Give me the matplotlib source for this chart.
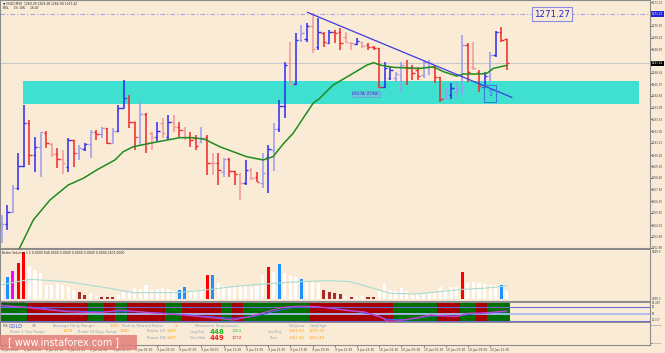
import numpy as np
import matplotlib.pyplot as plt
import matplotlib.transforms as mtransforms
from matplotlib.patches import Rectangle

# 画布尺寸（像素）与背景
W, H = 665, 353
BG = '#faebd7'
STEP, X0 = 5.55, 1.7      # K线间距、第一根K线位置（像素）
PANEL_W = 650

# ---------------- 数据 ----------------
opens = [1254.05, 1254.78, 1255.70, 1257.64, 1259.34, 1262.69, 1260.20, 1260.85, 1261.95, 1261.06,
         1260.28, 1259.86, 1259.28, 1261.38, 1260.33, 1260.64, 1261.06, 1262.03, 1261.85, 1262.29,
         1261.12, 1262.08, 1263.86, 1264.65, 1262.82, 1261.64, 1263.39, 1261.90, 1261.59, 1262.69,
         1261.64, 1262.82, 1262.42, 1262.16, 1261.64, 1261.51, 1261.25, 1261.64, 1259.60, 1259.54,
         1258.89, 1259.86, 1258.97, 1258.71, 1258.03, 1259.02, 1258.50, 1258.03, 1260.07, 1260.59,
         1262.24, 1264.05, 1267.39, 1265.77, 1269.23, 1269.28, 1270.33, 1268.70, 1269.75, 1269.02,
         1269.88, 1269.88, 1269.49, 1269.02, 1268.89, 1269.10, 1268.83, 1268.70, 1268.57, 1265.51,
         1266.22, 1266.22, 1266.48, 1267.13, 1267.13, 1266.87, 1266.48, 1267.00, 1267.13, 1266.35,
         1264.65, 1264.91, 1265.17, 1265.30, 1268.83, 1267.13, 1266.74, 1265.56, 1266.40, 1268.05,
         1269.83, 1269.28]
highs = [1255.49, 1256.27, 1257.85, 1260.33, 1264.12, 1262.95, 1261.64, 1262.03, 1262.11, 1261.12,
         1260.72, 1260.59, 1261.51, 1261.38, 1260.98, 1261.12, 1262.16, 1262.16, 1262.42, 1262.29,
         1262.29, 1264.12, 1266.09, 1264.91, 1262.82, 1264.39, 1263.47, 1262.03, 1262.82, 1263.08,
         1263.34, 1263.34, 1262.82, 1262.42, 1262.03, 1261.77, 1262.37, 1261.77, 1260.33, 1260.33,
         1259.94, 1259.94, 1258.97, 1258.76, 1259.81, 1259.15, 1258.89, 1260.33, 1260.98, 1262.74,
         1264.52, 1267.53, 1269.10, 1269.75, 1270.40, 1270.53, 1271.32, 1270.93, 1269.88, 1270.01,
         1270.01, 1270.14, 1269.88, 1269.10, 1269.36, 1269.10, 1269.02, 1268.76, 1268.57, 1267.53,
         1267.13, 1266.74, 1267.53, 1267.66, 1267.26, 1267.13, 1267.66, 1267.66, 1267.26, 1266.35,
         1265.43, 1265.82, 1265.96, 1269.62, 1269.02, 1269.10, 1266.87, 1266.74, 1268.31, 1269.96,
         1270.27, 1269.28]
lows = [1253.26, 1254.31, 1255.62, 1257.45, 1259.28, 1259.41, 1258.89, 1258.50, 1260.72, 1260.07,
        1259.15, 1258.71, 1258.89, 1259.28, 1259.81, 1260.54, 1259.94, 1261.38, 1261.51, 1261.06,
        1261.12, 1262.03, 1263.86, 1262.29, 1260.59, 1260.98, 1260.33, 1260.59, 1261.25, 1261.51,
        1261.38, 1262.03, 1261.64, 1261.38, 1260.85, 1260.59, 1261.12, 1258.63, 1258.63, 1257.85,
        1258.50, 1258.50, 1257.85, 1256.67, 1257.85, 1258.24, 1258.11, 1257.64, 1257.19, 1258.97,
        1262.03, 1263.08, 1265.69, 1265.69, 1269.10, 1269.10, 1268.18, 1268.44, 1268.70, 1268.97,
        1268.97, 1268.44, 1269.02, 1268.44, 1268.83, 1268.57, 1268.44, 1268.44, 1265.43, 1265.43,
        1266.09, 1265.96, 1265.17, 1265.69, 1266.09, 1266.09, 1266.22, 1266.48, 1265.82, 1264.39,
        1264.57, 1264.57, 1264.65, 1264.91, 1265.96, 1266.87, 1265.17, 1265.51, 1265.82, 1267.92,
        1269.10, 1266.90]
closes = [1254.78, 1255.70, 1257.64, 1259.34, 1262.69, 1260.20, 1260.85, 1262.03, 1261.12, 1260.28,
          1259.86, 1259.54, 1261.38, 1260.33, 1260.72, 1261.06, 1262.03, 1261.85, 1262.29, 1261.12,
          1262.08, 1263.86, 1264.65, 1262.82, 1261.64, 1263.39, 1261.12, 1261.59, 1262.11, 1261.95,
          1262.82, 1262.42, 1262.16, 1261.64, 1261.38, 1260.91, 1261.51, 1259.60, 1259.54, 1259.02,
          1259.86, 1258.97, 1258.71, 1257.98, 1259.02, 1258.37, 1258.11, 1258.76, 1260.67, 1262.24,
          1264.05, 1267.26, 1265.77, 1269.23, 1269.75, 1270.33, 1268.49, 1269.88, 1269.10, 1269.88,
          1269.75, 1269.02, 1269.10, 1268.97, 1269.17, 1268.76, 1268.70, 1268.57, 1265.51, 1267.00,
          1266.87, 1266.56, 1267.26, 1267.00, 1266.66, 1266.40, 1267.53, 1267.39, 1266.30, 1264.57,
          1265.30, 1265.43, 1265.43, 1268.83, 1266.74, 1267.00, 1265.62, 1266.40, 1268.05, 1269.83,
          1269.23, 1267.42]
# B/b 阳线（深/浅），R/r 阴线（深/浅）
bar_kind = ("bBbBBRBbRr" "RrBRbBbRbR" "bBBRRbRrBr" "BrRrRRbRrR" "bRRrBrRbBb"
            "BBrBbBrBRB" "RRrrBrRRRB" "BbbRRRbbRR" "bBbbRrRBbB" "RR")

# 均线
ma_x = [2.5, 3.2, 5.7, 8.7, 12.0, 14.7, 17.1, 20.4, 21.9, 23.7, 27.3, 32.1, 34.5, 36.6, 39.3,
        44.1, 47.1, 48.9, 50.7, 52.5, 54.3, 56.1, 57.3, 59.7, 62.8, 65.8, 67.0, 68.2, 70.6,
        75.4, 77.8, 79.6, 82.0, 83.2, 86.2, 87.4, 88.6, 91.0]
ma_y = [1252.30, 1252.87, 1255.10, 1256.67, 1257.85, 1258.37, 1259.02, 1259.81, 1260.46, 1260.85,
        1261.17, 1261.56, 1261.56, 1261.43, 1260.85, 1260.07, 1259.81, 1260.07, 1261.06, 1261.90,
        1263.08, 1264.26, 1264.65, 1265.69, 1266.48, 1267.26, 1267.45, 1267.26, 1267.08, 1267.00,
        1267.13, 1266.74, 1266.40, 1266.56, 1266.56, 1266.61, 1267.00, 1267.24]

trend_x = [55.1, 91.9]
trend_y = [1271.40, 1264.73]
zone_left, zone_right = 3.84, 114.8
zone_low, zone_high = 1264.20, 1266.01
level_line = 1271.27
last_price = 1267.42

price_ticks = [1252.90, 1253.80, 1254.70, 1255.65, 1256.55, 1257.50, 1258.40, 1259.30, 1260.20,
               1261.15, 1262.05, 1263.00, 1263.90, 1264.85, 1265.75, 1266.65, 1268.50, 1269.40,
               1270.35, 1272.20]

# 成交量
volumes = [1894, 2430, 3038, 3860, 5111, 3431, 3145, 2788, 1537, 1537,
           1716, 1537, 1287, 1001, 751, 465, 715, 357, 286, 286,
           214, 465, 822, 929, 1180, 1072, 1537, 1001, 1072, 1180,
           1072, 929, 1001, 1287, 929, 1001, 1072, 2609, 2609, 1787,
           1430, 1358, 1287, 1430, 1430, 1358, 1430, 2609, 3503, 2967,
           3789, 2859, 2502, 2430, 2145, 1894, 2002, 1716, 1001, 822,
           643, 536, 357, 286, 357, 357, 286, 286, 929, 1608,
           1001, 894, 1180, 929, 572, 572, 572, 643, 643, 1358,
           1001, 1287, 1287, 2895, 1787, 1859, 1716, 1608, 1537, 1537,
           1537, 929]
vol_kind = ("WBMRRWWWWW" "WWWWDDWWDD" "DWWWWWWWWW" "WWBBWWWRBW" "WWWWWWWWRW"
            "BWWWBWWWDD" "DDWDWWDDWW" "WWWWWWWWWW" "WWWRWWWWWW" "BW")
vma_x = [-0.3, 5.1, 11.7, 19.5, 23.7, 31.5, 35.7, 41.7, 46.5, 53.7, 59.2, 62.8, 67.0, 70.0,
         74.8, 79.0, 83.2, 86.8, 91.0]
vma_y = [1537, 2145, 1894, 1180, 715, 715, 929, 1358, 1608, 1894, 2000, 1894, 1180, 643,
         572, 822, 1072, 1180, 1430]

# 指标窗口
trend_state = ("GGGGG" "RRRRRRRRRRR" "GGG" "RR" "GG" "RRRRRRR" "GGG" "RRRRRRR" "GG" "RR"
               "GGGGGGGGGGGG" "RRRRRRRRRRRRRRR" "GGGGGGGG" "RRRR" "GGG" "RR" "GGGG")
rsi_x = [-0.3, 5.7, 11.7, 17.7, 21.3, 26.7, 32.7, 38.7, 41.7, 44.7, 47.7, 50.7, 53.7, 56.7,
         59.2, 62.2, 65.2, 68.2, 69.4, 71.2, 74.2, 77.2, 80.2, 82.0, 83.8, 87.4, 89.2, 91.0]
rsi_y = [90.3, 75.5, 60.3, 55.8, 67.9, 55.8, 45.5, 30.7, 23.1, 37.9, 60.3, 80.0, 85.8, 82.7,
         75.5, 65.0, 60.3, 37.9, 18.7, 18.7, 30.7, 45.5, 41.0, 37.9, 53.1, 55.8, 60.3, 63.4]
sig_x = [-0.3, 5.7, 11.7, 17.7, 23.7, 29.7, 35.7, 41.7, 45.3, 48.9, 52.5, 56.7, 62.2, 66.4,
         69.4, 73.0, 77.2, 82.0, 85.0, 91.0]
sig_y = [85.8, 80.0, 63.4, 60.3, 60.3, 53.1, 41.0, 30.7, 37.9, 60.3, 80.0, 82.7, 67.9, 50.0,
         26.3, 23.1, 41.0, 41.0, 50.0, 60.3]

time_labels = ["8 Jun 2018", "8 Jun 17:30", "8 Jun 19:30", "8 Jun 21:30", "8 Jun 23:30",
               "9 Jun 01:30", "9 Jun 03:30", "9 Jun 05:30", "9 Jun 07:30", "9 Jun 09:30",
               "9 Jun 11:30", "9 Jun 13:30", "9 Jun 15:30", "9 Jun 17:30", "9 Jun 19:30",
               "9 Jun 21:30", "9 Jun 23:30", "10 Jun 01:30", "10 Jun 03:30", "10 Jun 05:30",
               "10 Jun 07:30", "10 Jun 09:30", "10 Jun 11:30"]

# ---------------- 绘图 ----------------
fig = plt.figure(figsize=(W / 100, H / 100), dpi=100)
fig.patch.set_facecolor(BG)


def px_axes(left, top, width, height):
    a = fig.add_axes([left / W, 1 - (top + height) / H, width / W, height / H])
    a.set_facecolor(BG)
    a.set_xlim(-X0 / STEP, (PANEL_W - X0) / STEP)
    a.set_xticks([])
    a.set_yticks([])
    for s in a.spines.values():
        s.set_color('#8c8c8c')
        s.set_linewidth(0.8)
    return a


def px_text(x, y, s, **kw):
    kw.setdefault('fontsize', 2.4)
    kw.setdefault('va', 'center')
    fig.text(x / W, 1 - y / H, s, **kw)


x = np.arange(len(opens))
n = len(opens)

# 主图
ax = px_axes(0, 0, PANEL_W, 249)
ax.set_ylim(1252.82, 1272.37)
ax.spines['bottom'].set_linewidth(1.5)
ax.add_patch(Rectangle((zone_left, zone_low), zone_right - zone_left, zone_high - zone_low,
                       color='#40e0d0', lw=0, zorder=1))
ax.axhline(level_line, color='#a8a0e0', lw=0.8, ls=(0, (4, 2, 1, 2)), zorder=2)
ax.axhline(last_price, color='#c8c8c8', lw=0.8, zorder=2)

kind_col = {'B': '#2b2bf0', 'b': '#9a9af0', 'R': '#f02828', 'r': '#f09898'}
cols = [kind_col[k] for k in bar_kind]
ax.vlines(x, lows, highs, colors=cols, lw=1.1, zorder=3)
ax.hlines(opens, x - 0.45, x, colors=cols, lw=1.0, zorder=3)
ax.hlines(closes, x, x + 0.45, colors=cols, lw=1.0, zorder=3)

ax.plot(ma_x, ma_y, color='#1e8c1e', lw=1.1, zorder=4)
ax.plot(trend_x, trend_y, color='#3c3ce0', lw=0.9, zorder=4)

ax.text(65.6, 1264.99, 'DELTA ZONE', fontsize=3.2, color='#2040d0', ha='center', va='center',
        bbox=dict(boxstyle='square,pad=0.2', fc='#72c4d8', ec='#5a9ad0', lw=0.4), zorder=5)
ax.add_patch(Rectangle((86.9, 1264.38), 2.2, 1.31, fc='none', ec='#3a7ad8', lw=0.8, zorder=5))
ax.text(88.0, 1265.03, '\u21e7', fontsize=7, color='#3a6ad8', ha='center', va='center', zorder=5)
ax.text(99.2, level_line, '1271.27', fontsize=6.3, color='#2222cc', ha='center', va='center',
        bbox=dict(boxstyle='square,pad=0.25', fc=BG, ec='#8a8ae0', lw=0.8), zorder=5)

ax.yaxis.tick_right()
ax.set_yticks(price_ticks)
ax.set_yticklabels([f'{v:.2f}' for v in price_ticks], fontsize=1.95)
ax.tick_params(axis='y', length=1.2, width=0.5, pad=0.4, colors='#404040')
trans = mtransforms.blended_transform_factory(ax.transAxes, ax.transData)
ax.text(1.003, level_line, '1271.27', transform=trans, fontsize=1.95, color='white', va='center',
        bbox=dict(boxstyle='square,pad=0.2', fc='#2424d8', ec='none'), clip_on=False)
ax.text(1.003, last_price, '1267.42', transform=trans, fontsize=1.95, color='white', va='center',
        bbox=dict(boxstyle='square,pad=0.2', fc='black', ec='none'), clip_on=False)

px_text(3, 3.3, '\u25bc GOLD,M30  1269.28 1269.28 1266.90 1267.42', color='#222222', fontsize=2.2)
px_text(3, 8.3, 'BSL     1% 10K     16:47', color='#222222', fontsize=2.2)

# 成交量
axv = px_axes(0, 250, PANEL_W, 51.5)
axv.set_ylim(-236, 5290)
axv.spines['top'].set_visible(False)
axv.spines['bottom'].set_linewidth(1.5)
vol_col = {'W': '#ffffff', 'R': '#ff0000', 'B': '#1e90ff', 'M': '#ff00ff', 'D': '#a52a2a'}
axv.bar(x, volumes, width=0.55, color=[vol_col[k] for k in vol_kind], lw=0)
axv.plot(vma_x, vma_y, color='#a8dcd0', lw=0.8)
px_text(2, 252.7, 'Better Volumes 1.5 0.0000 646.0000 0.0000 0.0000 0.0000 0.0000 1407.0000',
        color='#222222', fontsize=2.2)
px_text(651.5, 251.7, '5289.9', color='#404040', fontsize=1.95)
px_text(651.5, 298.7, '2889.3', color='#404040', fontsize=1.95)

# 指标
axi = px_axes(0, 302.5, PANEL_W, 20)
axi.set_ylim(11.9, 101.5)
axi.spines['top'].set_visible(False)
axi.spines['bottom'].set_linewidth(1.5)
state_col = {'G': '#007000', 'R': '#a80000'}
axi.bar(x, [89.6] * n, bottom=11.9, width=1.02, color=[state_col[s] for s in trend_state], lw=0)
for lvl in (80, 20):
    axi.axhline(lvl, color='#6c6cd6', lw=0.8)
axi.axhline(50, color='#aabcf2', lw=1.3)
axi.plot(sig_x, sig_y, color='#4a5cf0', lw=0.8)
axi.plot(rsi_x, rsi_y, color='#d040d0', lw=0.8)
px_text(2, 304.3, 'RSI(14) 63.4051', color='#202020', fontsize=2.2)
px_text(651.5, 303.4, '83.409', color='#404040', fontsize=1.8)
px_text(651.5, 307.4, '80', color='#404040', fontsize=1.8)
px_text(651.5, 314.0, '50', color='#404040', fontsize=1.8)
px_text(651.5, 320.4, '20.757', color='#404040', fontsize=1.8)

# 信息面板 + 时间轴
axn = px_axes(0, 323, PANEL_W, 22)
axn.spines['top'].set_visible(False)
axn.set_xticks(np.arange(0, n, 4))
axn.set_xticklabels(time_labels, fontsize=2.2, ha='left', color='#404040')
axn.tick_params(axis='x', length=1.5, width=0.5, pad=0.5, colors='#404040')
px_text(651.3, 325.3, '-9000000', color='#404040', fontsize=1.7)
px_text(651.3, 343.7, '9000000', color='#404040', fontsize=1.7)

GRAY, ORANGE = '#8fa3b8', '#f5a623'
info_rows = [
    (2, 326, 'T3K', '#303030', 2.2, 'normal'),
    (9, 326, 'GOLD', '#3050e0', 3.5, 'normal'),
    (32, 326, '30', '#6080c0', 2.8, 'normal'),
    (53, 326, 'Average Daily Range:', GRAY, 2.8, 'normal'),
    (110, 326, '1645', ORANGE, 2.8, 'normal'),
    (122, 326, 'Risk to Reward Ratio:', GRAY, 2.8, 'normal'),
    (175, 326, '3', ORANGE, 2.8, 'normal'),
    (195, 326, 'Maximum StopLosses:', GRAY, 2.8, 'normal'),
    (289, 326, 'DailyLow', GRAY, 2.6, 'normal'),
    (310, 326, 'DailyHigh', GRAY, 2.6, 'normal'),
    (10, 331.5, 'Room 1 Day Range', GRAY, 2.6, 'normal'),
    (63, 331.5, '1478', ORANGE, 2.8, 'normal'),
    (78, 331.5, 'Room 10 Days Range', GRAY, 2.6, 'normal'),
    (120, 331.5, '1660', ORANGE, 2.8, 'normal'),
    (147, 331.5, 'Room UP:', GRAY, 2.8, 'normal'),
    (167, 331.5, '1345', ORANGE, 2.8, 'normal'),
    (190, 331.5, 'Long Risk', GRAY, 2.2, 'normal'),
    (210, 331.5, '448', '#22bb22', 5.0, 'bold'),
    (232, 331.5, '1263', '#33cc33', 3.0, 'normal'),
    (268, 331.5, 'CurrDay', GRAY, 2.6, 'normal'),
    (289, 331.5, '1264.42', ORANGE, 2.8, 'normal'),
    (309, 331.5, '1270.39', ORANGE, 2.8, 'normal'),
    (124, 338, '1627', ORANGE, 2.8, 'normal'),
    (147, 338, 'Room DN:', GRAY, 2.8, 'normal'),
    (167, 338, '1347', ORANGE, 2.8, 'normal'),
    (190, 338, 'Short Risk', GRAY, 2.2, 'normal'),
    (210, 338, '449', '#ee2222', 5.0, 'bold'),
    (232, 338, '1272', '#ee2222', 3.0, 'normal'),
    (270, 338, 'Prev', GRAY, 2.6, 'normal'),
    (289, 338, '1267.42', ORANGE, 2.8, 'normal'),
    (309, 338, '1267.42', ORANGE, 2.8, 'normal'),
]
for tx, ty, s, c, fs, fw in info_rows:
    px_text(tx, ty, s, color=c, fontsize=fs, fontweight=fw)

# 水印
fig.add_artist(Rectangle((0, 1 - 350 / H), 137 / W, 15 / H, transform=fig.transFigure,
                         fc='#e47f78', ec='none', alpha=0.85, zorder=5))
px_text(64, 342.5, '[ www.instaforex.com ]', color='white', fontsize=6.9, ha='center', zorder=6)

fig.savefig('out.png', dpi=100, facecolor=BG)
